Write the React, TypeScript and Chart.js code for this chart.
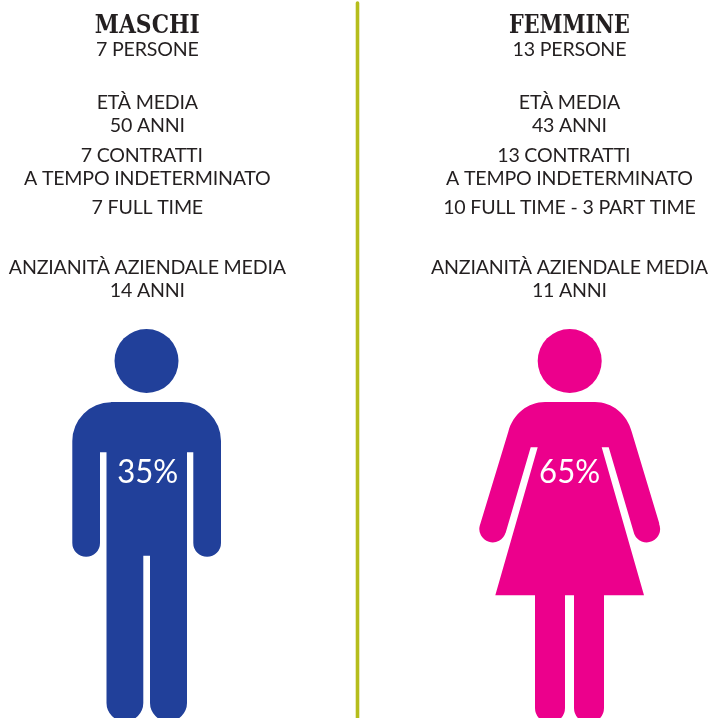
import React, { useEffect, useRef } from "react";
import { Chart, registerables } from "chart.js";

Chart.register(...registerables);

const categories = ["MASCHI", "FEMMINE"];
const shares = [35, 65];
const maleLines = ["7 PERSONE", "ETÀ MEDIA", "50 ANNI", "7 CONTRATTI", "A TEMPO INDETERMINATO", "7 FULL TIME", "ANZIANITÀ AZIENDALE MEDIA", "14 ANNI"];
const femaleLines = ["13 PERSONE", "ETÀ MEDIA", "43 ANNI", "13 CONTRATTI", "A TEMPO INDETERMINATO", "10 FULL TIME - 3 PART TIME", "ANZIANITÀ AZIENDALE MEDIA", "11 ANNI"];

const W = 708;
const H = 718;
const INK = "#231f20";
const BLUE = "#21409a";
const PINK = "#ec008c";
const OLIVE = "#b5bd1c";
const BODY_FONT = "19.6px Lato";
const TITLE_FONT = "bold 25.5px 'DejaVu Serif Condensed'";
const PCT_FONT = "400 32.5px Lato";
const SPACING = "-0.2px";
const centers = [147.3, 569.4];
const contractShift = [-5.6, -5.6];
const titleWidths = [105, 121];
const pctWidth = 61;
const titleBaseline = 32.7;
const lineBaselines = [56, 109, 132, 162.3, 185, 214.3, 274, 296.7];
const pctBaseline = 483;

const figurePlugin = {
  id: "figures",
  beforeDatasetsDraw(chart: any) {
    const { ctx, scales } = chart;
    const X = (v: number) => scales.x.getPixelForValue(v);
    const Y = (v: number) => scales.y.getPixelForValue(v);
    const M = (a: number, b: number) => ctx.moveTo(X(a), Y(b));
    const L = (a: number, b: number) => ctx.lineTo(X(a), Y(b));
    const A = (a: number, b: number, r: number, s: number, e: number, ccw = false) => ctx.arc(X(a), Y(b), r, s, e, ccw);
    ctx.save();
    // male body
    ctx.fillStyle = BLUE;
    ctx.beginPath();
    M(111, 402);
    L(182, 402);
    A(182, 441, 39, -Math.PI / 2, 0);
    L(221, 543);
    A(207.15, 543, 13.85, 0, Math.PI);
    L(193.3, 452.3);
    L(187, 452.3);
    L(187, 703);
    A(168.5, 703, 18.5, 0, Math.PI);
    L(150, 555.7);
    L(143.3, 555.7);
    L(143.3, 703);
    A(124.9, 703, 18.4, 0, Math.PI);
    L(106.5, 452.3);
    L(100, 452.3);
    L(100, 543);
    A(86.15, 543, 13.85, 0, Math.PI);
    L(72.3, 441);
    A(111, 441, 38.7, Math.PI, -Math.PI / 2);
    ctx.closePath();
    ctx.fill();
    // female body
    ctx.fillStyle = PINK;
    ctx.beginPath();
    M(545, 402);
    L(595, 402);
    ctx.bezierCurveTo(X(612), Y(402), X(627), Y(414), X(631.7), Y(431.7));
    L(659.3, 523.5);
    A(646.7, 529, 13.4, -0.4, 2.85);
    L(608.7, 447.3);
    L(601.7, 447.3);
    L(644, 595.3);
    L(604, 595.3);
    L(604, 708);
    A(589, 708, 15, 0, Math.PI);
    L(574, 595.3);
    L(565, 595.3);
    L(565, 708);
    A(550, 708, 15, 0, Math.PI);
    L(535, 595.3);
    L(495.3, 595.3);
    L(537.7, 447.3);
    L(530.7, 447.3);
    L(505.6, 533);
    A(492.7, 529, 13.4, 0.29, 3.54);
    L(508.3, 431.7);
    ctx.bezierCurveTo(X(513), Y(414), X(528), Y(402), X(545), Y(402));
    ctx.closePath();
    ctx.fill();
    ctx.restore();
  },
  afterDatasetsDraw(chart: any) {
    const { ctx, scales } = chart;
    const X = (v: number) => scales.x.getPixelForValue(v);
    const Y = (v: number) => scales.y.getPixelForValue(v);
    ctx.save();
    ctx.textAlign = "center";
    ctx.textBaseline = "alphabetic";
    categories.forEach((name, i) => {
      const cx = centers[i];
      ctx.fillStyle = INK;
      ctx.font = TITLE_FONT;
      (ctx as any).letterSpacing = "0px";
      ctx.fillText(name, X(cx), Y(titleBaseline), titleWidths[i]);
      ctx.font = BODY_FONT;
      (ctx as any).letterSpacing = SPACING;
      (i === 0 ? maleLines : femaleLines).forEach((line, k) => {
        const shift = k === 3 ? contractShift[i] : 0;
        ctx.fillText(line, X(cx + shift), Y(lineBaselines[k]));
      });
      ctx.fillStyle = "#ffffff";
      ctx.font = PCT_FONT;
      (ctx as any).letterSpacing = "0px";
      ctx.fillText(`${shares[i]}%`, X(i === 0 ? 147.8 : 569.6), Y(pctBaseline), pctWidth);
    });
    ctx.restore();
  },
};

export default function App() {
  const ref = useRef<HTMLCanvasElement>(null);
  useEffect(() => {
    const chart = new Chart(ref.current!, {
      type: "scatter",
      plugins: [figurePlugin],
      data: {
        datasets: [
          {
            type: "line",
            data: [{ x: 357.5, y: 3 }, { x: 357.5, y: 718 }],
            borderColor: OLIVE,
            borderWidth: 3.6,
            borderCapStyle: "round",
            pointRadius: 0,
            clip: false,
          },
          {
            data: [{ x: 146.5, y: 361 }],
            pointRadius: 32,
            pointBackgroundColor: BLUE,
            pointBorderWidth: 0,
          },
          {
            data: [{ x: 569.7, y: 361 }],
            pointRadius: 32,
            pointBackgroundColor: PINK,
            pointBorderWidth: 0,
          },
        ],
      } as any,
      options: {
        animation: false,
        responsive: false,
        layout: { padding: 0, autoPadding: false },
        plugins: { legend: { display: false }, tooltip: { enabled: false } },
        scales: {
          x: { type: "linear", min: 0, max: W, display: false },
          y: { type: "linear", min: 0, max: H, reverse: true, display: false },
        },
      } as any,
    });
    return () => chart.destroy();
  }, []);
  return (
    <div style={{ position: "fixed", left: 0, top: 0, width: W, height: H, background: "#fff" }}>
      <canvas ref={ref} width={W} height={H} style={{ display: "block" }} />
    </div>
  );
}
